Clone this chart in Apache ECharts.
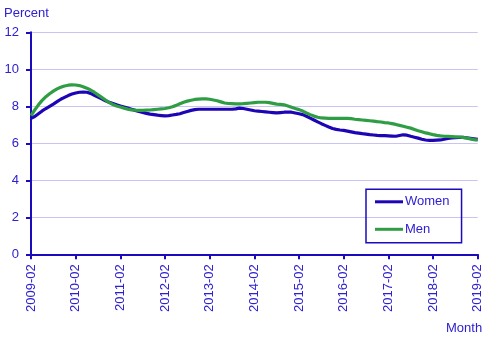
<!DOCTYPE html>
<html>
<head>
<meta charset="utf-8">
<script src="https://cdn.jsdelivr.net/npm/echarts@6/dist/echarts.min.js"></script>
<style>
  html, body { margin: 0; padding: 0; background: #fff; }
  #chart { width: 491px; height: 340px; }
</style>
</head>
<body>
<div id="chart"></div>
<script>
// Monthly series, 2009-02 .. 2019-02 (121 months)
const startYear = 2009;
const startMonth = 2;
const monthCount = 121;

const women = [
  7.35, 7.45, 7.60, 7.75, 7.88, 8.00, 8.12, 8.25, 8.38, 8.48, 8.58, 8.66,
  8.72, 8.76, 8.77, 8.76, 8.70, 8.60, 8.50, 8.40, 8.30, 8.22, 8.15, 8.08,
  8.02, 7.96, 7.90, 7.84, 7.78, 7.72, 7.67, 7.62, 7.58, 7.55, 7.52, 7.50,
  7.48, 7.50, 7.53, 7.56, 7.60, 7.66, 7.72, 7.78, 7.82, 7.84, 7.84, 7.84,
  7.84, 7.84, 7.84, 7.84, 7.84, 7.84, 7.84, 7.86, 7.90, 7.88, 7.84, 7.80,
  7.76, 7.74, 7.72, 7.70, 7.68, 7.66, 7.64, 7.66, 7.68, 7.69, 7.68, 7.64,
  7.60, 7.55, 7.46, 7.36, 7.26, 7.16, 7.06, 6.97, 6.88, 6.80, 6.75, 6.72,
  6.70, 6.66, 6.62, 6.58, 6.55, 6.52, 6.50, 6.47, 6.45, 6.43, 6.42, 6.41,
  6.40, 6.39, 6.38, 6.42, 6.46, 6.44, 6.38, 6.33, 6.28, 6.22, 6.18, 6.16,
  6.16, 6.17, 6.18, 6.22, 6.26, 6.29, 6.31, 6.32, 6.32, 6.30, 6.27, 6.24,
  6.21
];

const men = [
  7.50, 7.80, 8.08, 8.32, 8.52, 8.68, 8.82, 8.94, 9.03, 9.10, 9.14, 9.16,
  9.15, 9.12, 9.06, 8.98, 8.88, 8.76, 8.62, 8.48, 8.34, 8.20, 8.10, 8.02,
  7.96, 7.90, 7.85, 7.81, 7.79, 7.78, 7.78, 7.79, 7.80, 7.82, 7.84, 7.86,
  7.88, 7.92, 7.98, 8.05, 8.14, 8.22, 8.28, 8.33, 8.37, 8.39, 8.40, 8.40,
  8.38, 8.34, 8.30, 8.24, 8.18, 8.15, 8.14, 8.13, 8.13, 8.14, 8.16, 8.18,
  8.20, 8.22, 8.22, 8.22, 8.20, 8.16, 8.12, 8.10, 8.08, 8.02, 7.95, 7.88,
  7.82, 7.74, 7.64, 7.55, 7.47, 7.41, 7.37, 7.36, 7.35, 7.35, 7.35, 7.35,
  7.35, 7.35, 7.33, 7.30, 7.28, 7.26, 7.24, 7.22, 7.20, 7.17, 7.15, 7.12,
  7.10, 7.06, 7.02, 6.97, 6.92, 6.87, 6.82, 6.75, 6.68, 6.62, 6.56, 6.52,
  6.47, 6.43, 6.40, 6.38, 6.37, 6.36, 6.35, 6.34, 6.32, 6.28, 6.24, 6.20,
  6.17
];

const yTicks = [0, 2, 4, 6, 8, 10, 12];

// Month labels in YYYY-MM form
const months = [];
for (let i = 0; i < monthCount; i++) {
  const m0 = startMonth - 1 + i;
  const y = startYear + Math.floor(m0 / 12);
  const m = (m0 % 12) + 1;
  months.push(y + '-' + String(m).padStart(2, '0'));
}

const textColor = '#2f20d0';
const axisColor = '#1a0cbc';
const gridColor = '#c9c5f2';
const womenColor = '#1d05b5';
const menColor = '#2f9d44';
const font = 'Liberation Sans, Arial, sans-serif';

const chart = echarts.init(document.getElementById('chart'), null, { renderer: 'canvas' });

chart.setOption({
  animation: false,
  backgroundColor: '#ffffff',
  textStyle: { fontFamily: font },
  grid: { left: 31, right: 13.3, top: 32.3, bottom: 85.7, containLabel: false },
  xAxis: {
    type: 'category',
    data: months,
    boundaryGap: false,
    axisLine: { lineStyle: { color: axisColor, width: 2 } },
    axisTick: { interval: 11, length: 5, lineStyle: { color: axisColor, width: 2 } },
    axisLabel: {
      interval: 11, rotate: 90, margin: 10,
      color: textColor, fontSize: 13, fontFamily: font
    },
    splitLine: { show: false }
  },
  yAxis: {
    type: 'value',
    min: yTicks[0],
    max: yTicks[yTicks.length - 1],
    interval: 2,
    axisLine: { show: true, lineStyle: { color: axisColor, width: 2 } },
    axisTick: { show: true, length: 5, lineStyle: { color: axisColor, width: 2 } },
    axisLabel: { margin: 12, color: textColor, fontSize: 13, fontFamily: font },
    splitLine: { lineStyle: { color: gridColor, width: 1 } }
  },
  legend: {
    orient: 'vertical',
    left: 366, top: 189.3,
    padding: [6, 12, 7, 9],
    itemWidth: 28, itemHeight: 3, itemGap: 14.5,
    icon: 'rect',
    borderColor: axisColor, borderWidth: 1.5,
    textStyle: { color: textColor, fontSize: 13, fontFamily: font, padding: [0, 0, 0, -3] },
    data: ['Women', 'Men']
  },
  graphic: [
    { type: 'text', left: 4, top: 6.5,
      style: { text: 'Percent', fill: textColor, font: '13px ' + font } },
    { type: 'text', left: 446, top: 322,
      style: { text: 'Month', fill: textColor, font: '13px ' + font } }
  ],
  series: [
    { name: 'Women', type: 'line', data: women, showSymbol: false, symbol: 'none',
      lineStyle: { color: womenColor, width: 3.2 }, itemStyle: { color: womenColor } },
    { name: 'Men', type: 'line', data: men, showSymbol: false, symbol: 'none',
      lineStyle: { color: menColor, width: 3.2 }, itemStyle: { color: menColor } }
  ]
});
</script>
</body>
</html>
